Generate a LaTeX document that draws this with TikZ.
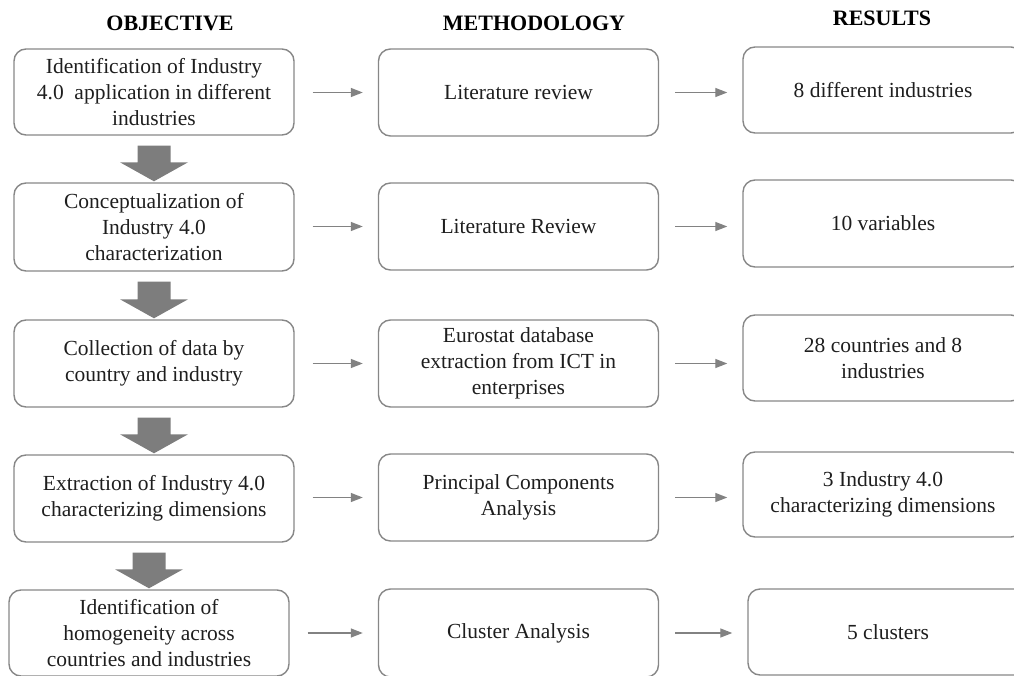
\documentclass[tikz,border=0pt]{standalone}
\usepackage{fontspec}
\setmainfont{Liberation Serif}
\usetikzlibrary{arrows.meta,calc}
\definecolor{boxline}{RGB}{135,135,135}
\definecolor{conncol}{RGB}{130,130,130}
\definecolor{bigfill}{RGB}{125,125,125}
\definecolor{txt}{RGB}{30,30,30}
\tikzset{
  box/.style={draw=boxline, line width=1.4pt, rounded corners=12pt, minimum width=280pt, minimum height=87pt, align=center, text=txt, font=\fontsize{21.5}{26}\selectfont, inner sep=2pt},
  head/.style={font=\fontsize{22}{26}\selectfont\bfseries, text=black},
  conn/.style={draw=conncol, line width=1.3pt, -{Triangle[length=12pt,width=9pt]}},
}
\newcommand{\bigarrow}[2]{%
  \fill[bigfill] let \p1=(#1.south), \p2=(#2.north) in
    (\x2-16.5pt,\y1-10pt) -- (\x2+16.5pt,\y1-10pt) -- (\x2+16.5pt,\y2+20pt) -- (\x2+34pt,\y2+20pt)
    -- (\x2,\y2+1pt) -- (\x2-34pt,\y2+20pt) -- (\x2-16.5pt,\y2+20pt) -- cycle;}
\begin{document}
\begin{tikzpicture}[x=1pt,y=-1pt]
\useasboundingbox (0,0) rectangle (1014,676);
% headers
\node[head] (h1) at (170,23) {OBJECTIVE};
\node[head] (h2) at (534,23) {METHODOLOGY};
\node[head] (h3) at (882,18) {RESULTS};
% left column
\node[box, minimum height=86pt] (l1) at (154,92) {Identification of Industry\\4.0\ \ application in different\\industries};
\node[box, minimum height=88pt] (l2) at (154,227) {Conceptualization of\\Industry 4.0\\characterization};
\node[box] (l3) at (154,363.5) {Collection of data by\\country and industry};
\node[box] (l4) at (154,498.5) {Extraction of Industry 4.0\\characterizing dimensions};
\node[box, minimum height=86pt] (l5) at (149,633) {Identification of\\homogeneity across\\countries and industries};
% middle column
\node[box] (m1) at (518.5,92.5) {Literature review};
\node[box] (m2) at (518.5,226.5) {Literature Review};
\node[box] (m3) at (518.5,363.5) {Eurostat database\\extraction from ICT in\\enterprises};
\node[box] (m4) at (518.5,497.5) {Principal Components\\Analysis};
\node[box, minimum height=88pt] (m5) at (518.5,633) {Cluster Analysis};
% right column
\node[box, minimum height=86pt] (r1) at (883,90) {8 different industries};
\node[box] (r2) at (883,223.5) {10 variables};
\node[box, minimum height=86pt] (r3) at (883,358) {28 countries and 8\\industries};
\node[box, minimum height=85pt] (r4) at (883,494.5) {3 Industry 4.0\\characterizing dimensions};
\node[box, minimum height=86pt] (r5) at (888,632) {5 clusters};
% big arrows
\bigarrow{l1}{l2}
\bigarrow{l2}{l3}
\bigarrow{l3}{l4}
\bigarrow{l4}{l5}
% small arrows
\foreach \i in {1,...,5}{
  \draw[conn] ([xshift=18pt]l\i.east |- m\i.west) -- ([xshift=-15pt]m\i.west);
  \draw[conn] ([xshift=16pt]m\i.east) -- ([xshift=-15pt]m\i.east -| r\i.west);
}
\end{tikzpicture}
\end{document}
